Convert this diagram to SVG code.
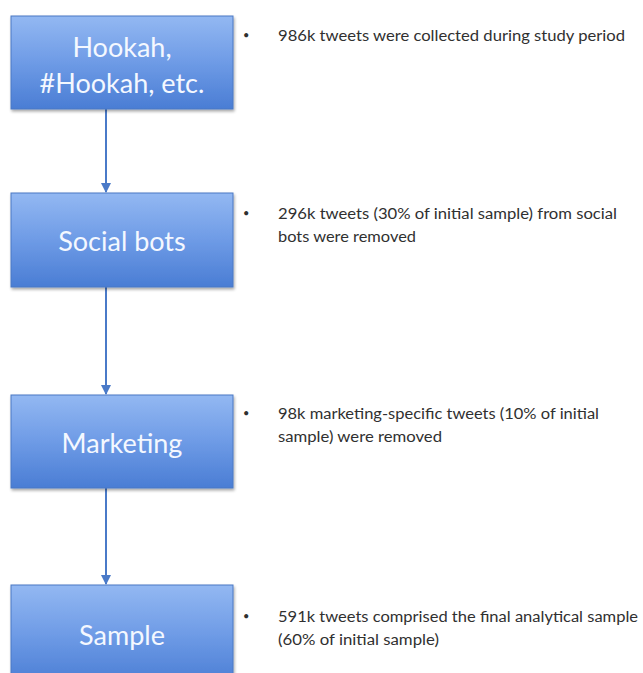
<svg xmlns="http://www.w3.org/2000/svg" width="643" height="673" viewBox="0 0 643 673">
  <defs>
    <linearGradient id="boxFill" x1="0" y1="0" x2="0" y2="1">
      <stop offset="0" stop-color="#93b8f2"/>
      <stop offset="0.5" stop-color="#6e9be6"/>
      <stop offset="1" stop-color="#4a7dd4"/>
    </linearGradient>
    <filter id="shadow" x="-10%" y="-10%" width="130%" height="130%">
      <feGaussianBlur in="SourceAlpha" stdDeviation="1.5"/>
      <feOffset dx="1" dy="2"/>
      <feComponentTransfer><feFuncA type="linear" slope="0.35"/></feComponentTransfer>
      <feMerge><feMergeNode/><feMergeNode in="SourceGraphic"/></feMerge>
    </filter>
    <marker id="arrow" viewBox="0 0 10 10" refX="9" refY="5" markerWidth="5" markerHeight="5" orient="auto">
      <path d="M0,0 L10,5 L0,10 Z" fill="#4a7ac8"/>
    </marker>
  </defs>
  <style>
    .box { fill: url(#boxFill); stroke: #4a78c4; stroke-width: 1; filter: url(#shadow); }
    .label { font-family: Lato, "Open Sans", sans-serif; font-size: 27px; fill: #f4f8ff; text-anchor: middle; }
    .note { font-family: Lato, "Open Sans", sans-serif; font-size: 14.5px; fill: #303030; }
    .bullet { font-family: Lato, "Open Sans", sans-serif; font-size: 11px; fill: #303030; }
    .conn { stroke: #4a7ac8; stroke-width: 2; fill: none; marker-end: url(#arrow); }
  </style>
  <rect width="643" height="673" fill="#ffffff"/>

  <g id="connectors">
    <line class="conn" x1="106" y1="109" x2="106" y2="192"/>
    <line class="conn" x1="106" y1="287" x2="106" y2="394"/>
    <line class="conn" x1="106" y1="488" x2="106" y2="584"/>
  </g>

  <g id="node-hookah">
    <rect class="box" x="11" y="16" width="222" height="93"/>
    <text class="label" x="122" y="57">Hookah,</text>
    <text class="label" x="122" y="93">#Hookah, etc.</text>
  </g>
  <g id="node-socialbots">
    <rect class="box" x="11" y="193" width="222" height="94"/>
    <text class="label" x="122" y="251">Social bots</text>
  </g>
  <g id="node-marketing">
    <rect class="box" x="11" y="395" width="222" height="93"/>
    <text class="label" x="122" y="453">Marketing</text>
  </g>
  <g id="node-sample">
    <rect class="box" x="11" y="585" width="222" height="100"/>
    <text class="label" x="122" y="645">Sample</text>
  </g>

  <g id="notes">
    <text class="bullet" x="243" y="39">•</text>
    <text class="note" x="278" y="41" textLength="347" lengthAdjust="spacingAndGlyphs">986k tweets were collected during study period</text>

    <text class="bullet" x="243" y="217">•</text>
    <text class="note" x="278" y="219" textLength="339" lengthAdjust="spacingAndGlyphs">296k tweets (30% of initial sample) from social</text>
    <text class="note" x="278" y="242" textLength="138" lengthAdjust="spacingAndGlyphs">bots were removed</text>

    <text class="bullet" x="243" y="417">•</text>
    <text class="note" x="278" y="419" textLength="321" lengthAdjust="spacingAndGlyphs">98k marketing-specific tweets (10% of initial</text>
    <text class="note" x="278" y="442" textLength="164" lengthAdjust="spacingAndGlyphs">sample) were removed</text>

    <text class="bullet" x="243" y="620">•</text>
    <text class="note" x="278" y="622" textLength="360" lengthAdjust="spacingAndGlyphs">591k tweets comprised the final analytical sample</text>
    <text class="note" x="278" y="645" textLength="161" lengthAdjust="spacingAndGlyphs">(60% of initial sample)</text>
  </g>
</svg>
